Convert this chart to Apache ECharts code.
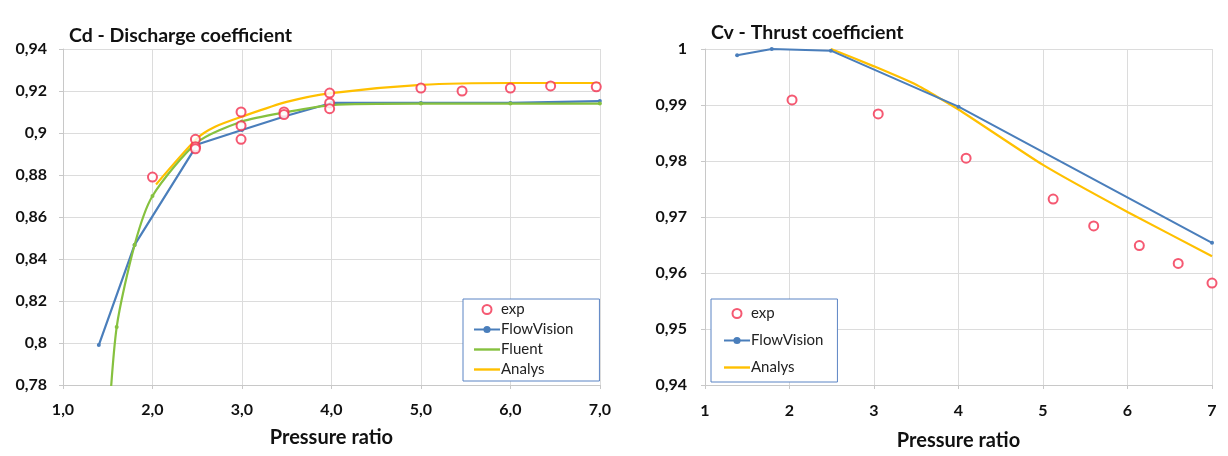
<!DOCTYPE html>
<html>
<head>
<meta charset="utf-8">
<script src="https://cdn.jsdelivr.net/npm/echarts@6/dist/echarts.min.js"></script>
<style>
  html, body { margin: 0; padding: 0; background: #fff; }
  #wrap { position: relative; width: 1228px; height: 456px; }
  #cd { position: absolute; left: 0; top: 0; width: 614px; height: 456px; }
  #cv { position: absolute; left: 614px; top: 0; width: 614px; height: 456px; }
</style>
</head>
<body>
<div id="wrap"><div id="cd"></div><div id="cv"></div></div>
<script>
// ---- Cd: discharge coefficient vs pressure ratio ----
const cdExp = [
  [2.0, 0.879], [2.48, 0.897], [2.48, 0.8935], [2.48, 0.8925],
  [2.99, 0.910], [2.99, 0.9035], [2.99, 0.897],
  [3.47, 0.910], [3.47, 0.9088],
  [3.98, 0.919], [3.98, 0.9143], [3.98, 0.9116],
  [5.0, 0.9214], [5.46, 0.920], [6.0, 0.9214], [6.45, 0.9224], [6.96, 0.922]
];
const cdFlowVision = [
  [1.4, 0.799], [1.8, 0.8467], [2.5, 0.8945], [3.0, 0.9014], [3.5, 0.9082],
  [4.0, 0.9143], [5.0, 0.9143], [6.0, 0.9143], [7.0, 0.9152]
];
const cdFluent = [
  [1.5, 0.755], [1.6, 0.8076], [1.8, 0.8467], [2.0, 0.870], [2.5, 0.8955],
  [3.0, 0.9055], [3.5, 0.9100], [4.0, 0.9133], [5.0, 0.9140], [6.0, 0.9140], [7.0, 0.9140]
];
const cdAnalys = [
  [2.04, 0.8755], [2.5, 0.8975], [2.7, 0.9030], [3.0, 0.9078], [3.5, 0.9148],
  [4.0, 0.9190], [5.0, 0.9229], [6.0, 0.9238], [7.0, 0.9238]
];
const cdXTicks = [1, 7, 1];          // min, max, step
const cdYTicks = [0.78, 0.94, 0.02];

// ---- Cv: thrust coefficient vs pressure ratio ----
const cvExp = [
  [2.03, 0.9909], [3.05, 0.9884], [4.09, 0.9805], [5.12, 0.9732],
  [5.6, 0.9684], [6.14, 0.9649], [6.6, 0.9617], [7.0, 0.9582]
];
const cvFlowVision = [
  [1.38, 0.9989], [1.79, 1.0], [2.49, 0.9997], [4.0, 0.9897], [7.0, 0.9654]
];
const cvAnalys = [
  [2.49, 1.0], [3.0, 0.9969], [3.5, 0.9936], [4.0, 0.9892],
  [5.0, 0.9793], [6.0, 0.9709], [7.0, 0.9630]
];
const cvXTicks = [1, 7, 1];
const cvYTicks = [0.94, 1.0, 0.01];

const FONT = 'Lato, "Open Sans", sans-serif';
const BLUE = '#4a7ebb', GREEN = '#86c13f', YELLOW = '#ffc000', RED = '#f2304f';
const LINE_ICON = 'path://M0,0H26V2.4H0Z';

function commaNum(v, digits) {
  let s = (+v.toFixed(digits)).toString();
  return s.replace('.', ',');
}

function baseAxisStyle() {
  return {
    axisLine: { show: true, lineStyle: { color: '#c8c8c8', width: 1 } },
    axisTick: { show: true, length: 4, lineStyle: { color: '#c8c8c8' } },
    splitLine: { show: true, lineStyle: { color: '#dcdcdc', width: 1 } }
  };
}

function legendCfg(pos, names, gap) {
  return {
    orient: 'vertical',
    left: pos.left, top: pos.top,
    padding: pos.padding,
    itemGap: gap,
    itemWidth: 26, itemHeight: 9,
    borderColor: '#5b84c4', borderWidth: 1,
    backgroundColor: '#fff',
    textStyle: { fontFamily: FONT, fontSize: 15, color: '#222', padding: [0, 0, 0, -4] },
    data: names
  };
}

function axisLabelStyle(extra) {
  return Object.assign({ fontFamily: FONT, fontWeight: 'bold', fontSize: 16, color: '#111' }, extra);
}

// Left chart
const cdChart = echarts.init(document.getElementById('cd'), null, { renderer: 'canvas' });
cdChart.setOption({
  animation: false,
  title: {
    text: 'Cd - Discharge coefficient', left: 64, top: 21,
    textStyle: { fontFamily: FONT, fontWeight: 'bold', fontSize: 19.5, color: '#111' }
  },
  grid: { left: 63, top: 49, width: 543, height: 336 },
  legend: legendCfg({ left: 463, top: 299, padding: [3, 26, 4, 10] }, [
    { name: 'exp', icon: 'emptyCircle' },
    { name: 'FlowVision' },
    { name: 'Fluent', icon: LINE_ICON },
    { name: 'Analys', icon: LINE_ICON }
  ], 5),
  xAxis: Object.assign({
    type: 'value', min: cdXTicks[0], max: cdXTicks[1], interval: cdXTicks[2],
    name: 'Pressure ratio', nameLocation: 'middle', nameGap: 43,
    nameTextStyle: { fontFamily: FONT, fontWeight: 'bold', fontSize: 20, color: '#111' },
    axisLabel: axisLabelStyle({ margin: 17, formatter: v => v.toFixed(1).replace('.', ',') })
  }, baseAxisStyle()),
  yAxis: Object.assign({
    type: 'value', min: cdYTicks[0], max: cdYTicks[1], interval: cdYTicks[2],
    axisLabel: axisLabelStyle({ margin: 16, formatter: v => commaNum(v, 2) })
  }, baseAxisStyle()),
  series: [
    { name: 'FlowVision', type: 'line', data: cdFlowVision, clip: true,
      color: BLUE, lineStyle: { width: 2.2 }, symbol: 'circle', symbolSize: 4, z: 3 },
    { name: 'Fluent', type: 'line', data: cdFluent, clip: true, smooth: 0.25,
      color: GREEN, lineStyle: { width: 2.2 }, symbol: 'circle', symbolSize: 4, z: 4 },
    { name: 'Analys', type: 'line', data: cdAnalys, clip: true, smooth: 0.25,
      color: YELLOW, lineStyle: { width: 2.2 }, showSymbol: false, z: 2 },
    { name: 'exp', type: 'scatter', data: cdExp, symbol: 'emptyCircle', symbolSize: 9,
      itemStyle: { color: RED, borderColor: RED, borderWidth: 1.4 }, z: 5 }
  ]
});

// Right chart
const cvChart = echarts.init(document.getElementById('cv'), null, { renderer: 'canvas' });
cvChart.setOption({
  animation: false,
  title: {
    text: 'Cv - Thrust coefficient', left: 92, top: 18,
    textStyle: { fontFamily: FONT, fontWeight: 'bold', fontSize: 19.5, color: '#111' }
  },
  grid: { left: 91, top: 49, width: 507, height: 342 },
  legend: legendCfg({ left: 97, top: 299, padding: [7, 14, 7, 12] }, [
    { name: 'exp', icon: 'emptyCircle' },
    { name: 'FlowVision' },
    { name: 'Analys', icon: LINE_ICON }
  ], 12),
  xAxis: Object.assign({
    type: 'value', min: cvXTicks[0], max: cvXTicks[1], interval: cvXTicks[2],
    name: 'Pressure ratio', nameLocation: 'middle', nameGap: 46,
    nameTextStyle: { fontFamily: FONT, fontWeight: 'bold', fontSize: 20, color: '#111' },
    axisLabel: axisLabelStyle({ margin: 18, formatter: v => String(v) })
  }, baseAxisStyle()),
  yAxis: Object.assign({
    type: 'value', min: cvYTicks[0], max: cvYTicks[1], interval: cvYTicks[2],
    axisLabel: axisLabelStyle({ margin: 18, formatter: v => commaNum(v, 2) })
  }, baseAxisStyle()),
  series: [
    { name: 'FlowVision', type: 'line', data: cvFlowVision,
      color: BLUE, lineStyle: { width: 2 }, symbol: 'circle', symbolSize: 4, z: 3 },
    { name: 'Analys', type: 'line', data: cvAnalys, smooth: 0.15,
      color: YELLOW, lineStyle: { width: 2.2 }, showSymbol: false, z: 2 },
    { name: 'exp', type: 'scatter', data: cvExp, symbol: 'emptyCircle', symbolSize: 9,
      itemStyle: { color: RED, borderColor: RED, borderWidth: 1.4 }, z: 5 }
  ]
});
</script>
</body>
</html>
